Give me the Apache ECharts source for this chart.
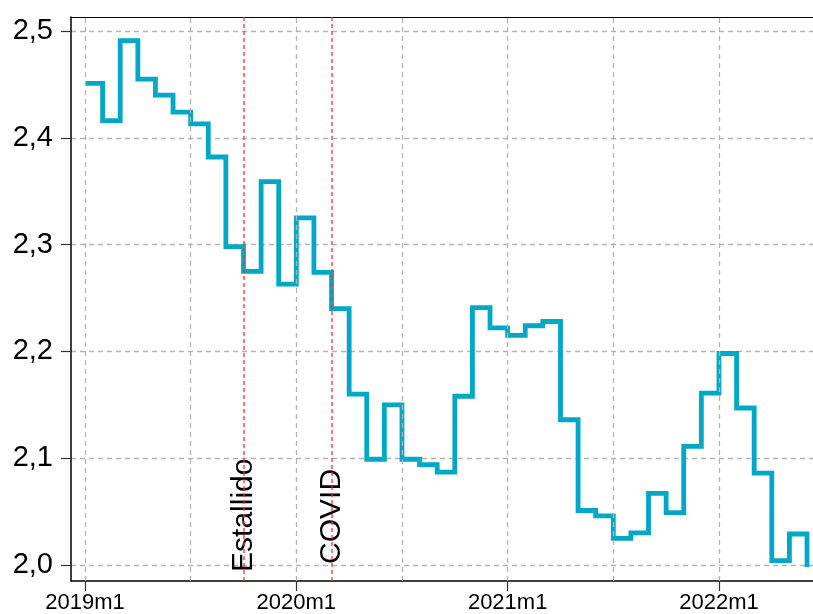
<!DOCTYPE html>
<html>
<head>
<meta charset="utf-8">
<script src="https://cdn.jsdelivr.net/npm/echarts@6/dist/echarts.min.js"></script>
<style>
  html, body { margin: 0; padding: 0; background: #fff; }
  #chart { width: 813px; height: 614px; }
</style>
</head>
<body>
<div id="chart"></div>
<script>
// periodos mensuales (2019m1 .. 2022m6)
const periods = [
  '2019m1', '2019m2', '2019m3', '2019m4', '2019m5', '2019m6', '2019m7', '2019m8', '2019m9', '2019m10', '2019m11', '2019m12',
  '2020m1', '2020m2', '2020m3', '2020m4', '2020m5', '2020m6', '2020m7', '2020m8', '2020m9', '2020m10', '2020m11', '2020m12',
  '2021m1', '2021m2', '2021m3', '2021m4', '2021m5', '2021m6', '2021m7', '2021m8', '2021m9', '2021m10', '2021m11', '2021m12',
  '2022m1', '2022m2', '2022m3', '2022m4', '2022m5', '2022m6'
]
const values = [
  2.451, 2.416, 2.491, 2.455, 2.440, 2.424, 2.413, 2.382, 2.298, 2.275, 2.359, 2.263,
  2.325, 2.274, 2.240, 2.160, 2.099, 2.150, 2.099, 2.094, 2.087, 2.158, 2.241, 2.222,
  2.215, 2.224, 2.228, 2.136, 2.051, 2.046, 2.025, 2.030, 2.067, 2.049, 2.111, 2.161,
  2.198, 2.147, 2.086, 2.004, 2.029, 1.998
]
const xLabelTicks = ['2019m1', '2020m1', '2021m1', '2022m1']
const xGridTicks = ['2019m1', '2019m7', '2020m1', '2020m7', '2021m1', '2021m7', '2022m1']
const yTicks = [2.0, 2.1, 2.2, 2.3, 2.4, 2.5]
const eventNames = ['Estallido', 'COVID']
const eventPeriods = ['2019m10', '2020m3']

const idx = p => periods.indexOf(p)
const font = 'Liberation Sans, Arial, sans-serif'

const chart = echarts.init(document.getElementById('chart'))
const option = {
  animation: false,
  grid: { left: 71, right: 0, top: 17, bottom: 32 },
  xAxis: [
    {
      type: 'value',
      position: 'bottom',
      min: -0.795,
      max: 41.34,
      axisLine: { show: true, onZero: false, lineStyle: { color: '#000', width: 1.5 } },
      axisTick: { show: true, length: 10, customValues: xLabelTicks.map(idx), lineStyle: { color: '#333', width: 1.2 } },
      axisLabel: {
        customValues: xLabelTicks.map(idx),
        formatter: v => periods[Math.round(v)],
        fontFamily: font, fontSize: 22, color: '#000', margin: 11
      },
      splitLine: { show: false }
    },
    {
      type: 'value',
      position: 'top',
      min: -0.795,
      max: 41.34,
      axisLine: { show: true, onZero: false, lineStyle: { color: '#000', width: 1.2 } },
      axisTick: { show: false },
      axisLabel: { show: false },
      splitLine: { show: false }
    }
  ],
  yAxis: {
    type: 'value',
    min: 1.985,
    max: 2.5131,
    axisLine: { show: true, onZero: false, lineStyle: { color: '#000', width: 1.5 } },
    axisTick: { show: true, length: 10, customValues: yTicks, lineStyle: { color: '#333', width: 1.2 } },
    axisLabel: {
      customValues: yTicks,
      formatter: v => v.toFixed(1).replace('.', ','),
      fontFamily: font, fontSize: 29, color: '#000', margin: 18
    },
    splitLine: { show: true, lineStyle: { color: '#b3b3b3', type: [5, 4], width: 1.3 } }
  },
  series: [
    {
      // lineas verticales de la grilla
      type: 'line',
      z: 1,
      data: [],
      silent: true,
      markLine: {
        silent: true,
        symbol: 'none',
        label: { show: false },
        lineStyle: { color: '#b3b3b3', type: [5, 4], width: 1.3 },
        data: xGridTicks.map(p => ({ xAxis: idx(p) }))
      }
    },
    {
      // lineas rojas de eventos
      type: 'line',
      z: 2,
      data: [],
      silent: true,
      markLine: {
        silent: true,
        symbol: 'none',
        label: { show: false },
        lineStyle: { color: '#ff3030', type: [4, 3], width: 1.5, opacity: 0.85 },
        data: eventPeriods.map(p => ({ xAxis: idx(p) }))
      }
    },
    {
      // etiquetas de eventos
      type: 'scatter',
      z: 2,
      symbolSize: 0,
      silent: true,
      itemStyle: { opacity: 1 },
      data: eventPeriods.map((p, i) => ({ value: [idx(p), i === 0 ? 1.9935 : 2.001], name: eventNames[i] })),
      label: {
        show: true,
        position: 'inside',
        rotate: 90,
        align: 'left',
        verticalAlign: 'middle',
        formatter: p => p.name,
        fontFamily: font,
        fontSize: 30,
        color: '#000',
        opacity: 1,
        textBorderWidth: 0
      }
    },
    {
      type: 'line',
      z: 3,
      step: 'end',
      showSymbol: false,
      data: values.map((v, i) => [i, v]),
      lineStyle: { color: '#00a8c6', width: 4.8, join: 'miter' },
      itemStyle: { color: '#00a8c6' }
    }
  ]
}
chart.setOption(option)
</script>
</body>
</html>
